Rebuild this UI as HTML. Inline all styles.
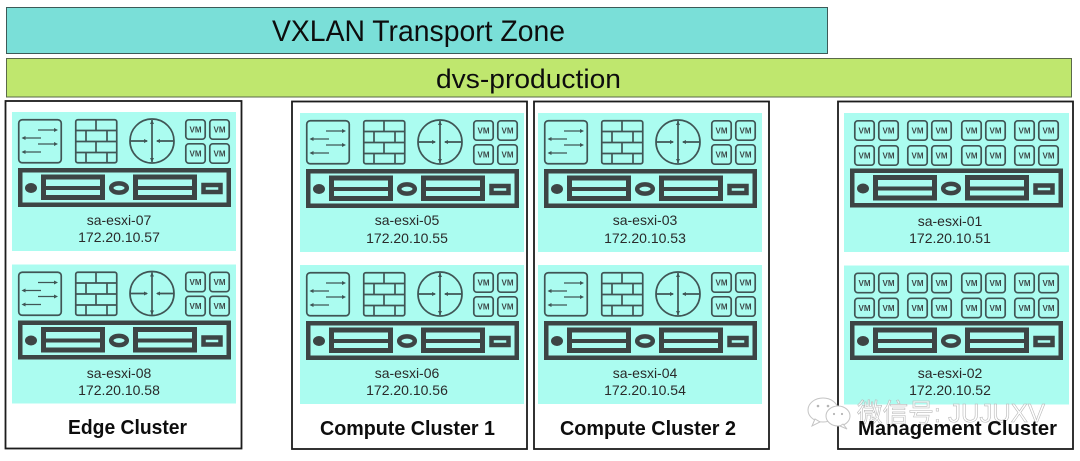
<!DOCTYPE html>
<html>
<head>
<meta charset="utf-8">
<style>
html,body{margin:0;padding:0;background:#fff;width:1080px;height:461px;overflow:hidden}
svg{display:block}
text{font-family:"Liberation Sans","Noto Sans CJK SC",sans-serif}
.h{font-size:14px;fill:#2a2a2a;text-anchor:middle}
.c{font-size:20px;font-weight:bold;fill:#111;text-anchor:middle}
.vm{font-size:8px;font-weight:bold;fill:#3e4a4a;text-anchor:middle}
</style>
</head>
<body>
<svg width="1080" height="461" viewBox="0 0 1080 461" xmlns="http://www.w3.org/2000/svg">
<defs>
<filter id="s" x="-2%" y="-2%" width="104%" height="104%"><feGaussianBlur stdDeviation="0.35"/></filter>
<g id="vm">
  <rect x="0.8" y="0.8" width="19.4" height="19.4" rx="3" fill="none" stroke="#3f5555" stroke-width="1.700"/>
  <text x="10.5" y="13.5" class="vm">VM</text>
</g>
<g id="server">
  <rect x="20.25" y="170.25" width="208.500" height="34.500" fill="none" stroke="#3d4444" stroke-width="4.500"/>
  <ellipse cx="31" cy="188" rx="6" ry="5" fill="#3d4444"/>
  <rect x="43.5" y="177" width="59" height="20.500" fill="none" stroke="#3d4444" stroke-width="5"/>
  <rect x="43" y="186" width="60" height="4" fill="#3d4444"/>
  <ellipse cx="119" cy="188" rx="7.800" ry="4.600" fill="none" stroke="#3d4444" stroke-width="4.500"/>
  <rect x="135.5" y="177" width="59" height="20.500" fill="none" stroke="#3d4444" stroke-width="5"/>
  <rect x="135" y="186" width="60" height="4" fill="#3d4444"/>
  <rect x="203.500" y="185" width="17" height="7" fill="none" stroke="#3d4444" stroke-width="4.500"/>
</g>
<g id="hostA">
  <rect x="12" y="112" width="224" height="139" fill="#abfcf0"/>
  <g fill="none" stroke="#3f5555" stroke-width="1.700">
    <rect x="18.75" y="119.75" width="42.5" height="43" rx="3.5"/>
    <rect x="75.75" y="119.75" width="41" height="43" rx="2"/>
    <path d="M76 130.5H117M76 141.5H117M76 152.5H117M96 120V130.5M86 130.5V141.5M107 130.5V141.5M96 141.5V152.5M86 152.5V163M107 152.5V163"/>
    <circle cx="152" cy="141" r="22"/>
    <path d="M130 141H147M157 141H174M152 120V162"/>
  </g>
  <g fill="none" stroke="#3f5555" stroke-width="1.300">
    <path d="M38 130H56M23 138H41M38 144H56M23 152H41"/>
  </g>
  <g fill="#3f5555">
    <path d="M58 130l-4-2v4zM21.500 138l4-2v4zM58 144l-4-2v4zM21.500 152l4-2v4z"/>
    <path d="M148 141l-4-2v4zM156 141l4-2v4zM152 120l-2 4h4zM152 162l-2-4h4z"/>
  </g>
  <use href="#vm" x="185" y="119"/>
  <use href="#vm" x="209" y="119"/>
  <use href="#vm" x="185" y="143"/>
  <use href="#vm" x="209" y="143"/>
  <use href="#server"/>
</g>
<g id="hostB">
  <rect x="844" y="113" width="225" height="139" fill="#abfcf0"/>
  <use href="#vm" x="854" y="120"/><use href="#vm" x="878" y="120"/>
  <use href="#vm" x="907" y="120"/><use href="#vm" x="931" y="120"/>
  <use href="#vm" x="961" y="120"/><use href="#vm" x="985" y="120"/>
  <use href="#vm" x="1014" y="120"/><use href="#vm" x="1038" y="120"/>
  <use href="#vm" x="854" y="145"/><use href="#vm" x="878" y="145"/>
  <use href="#vm" x="907" y="145"/><use href="#vm" x="931" y="145"/>
  <use href="#vm" x="961" y="145"/><use href="#vm" x="985" y="145"/>
  <use href="#vm" x="1014" y="145"/><use href="#vm" x="1038" y="145"/>
  <use href="#server" x="832" y="0.5"/>
</g>
</defs>

<g filter="url(#s)">
  <rect x="6.500" y="7.500" width="821" height="46" fill="#7adfd8" stroke="#3d5a58" stroke-width="1"/>
  <rect x="6.500" y="58.500" width="1065" height="38.500" fill="#bfe76e" stroke="#5a6a48" stroke-width="1"/>
  <text x="272" y="41" font-size="30" fill="#111" textLength="293" lengthAdjust="spacingAndGlyphs">VXLAN Transport Zone</text>
  <text x="436" y="88" font-size="27" fill="#111" textLength="185" lengthAdjust="spacingAndGlyphs">dvs-production</text>

  <g fill="#fff" stroke="#1a1a1a" stroke-width="1.800">
    <rect x="5.500" y="101" width="236" height="347.500"/>
    <rect x="292" y="101.500" width="235" height="347.500"/>
    <rect x="534" y="101.500" width="235" height="347.500"/>
    <rect x="838" y="101.500" width="235" height="347.500"/>
  </g>

  <use href="#hostA"/>
  <use href="#hostA" y="152.500"/>
  <use href="#hostA" x="288" y="1"/>
  <use href="#hostA" x="288" y="153"/>
  <use href="#hostA" x="526" y="1"/>
  <use href="#hostA" x="526" y="153"/>
  <use href="#hostB"/>
  <use href="#hostB" y="152.500"/>

  <text x="119" y="225" class="h">sa-esxi-07</text><text x="119" y="242" class="h">172.20.10.57</text>
  <text x="119" y="378" class="h">sa-esxi-08</text><text x="119" y="395" class="h">172.20.10.58</text>
  <text x="407" y="225" class="h">sa-esxi-05</text><text x="407" y="243" class="h">172.20.10.55</text>
  <text x="407" y="378" class="h">sa-esxi-06</text><text x="407" y="395" class="h">172.20.10.56</text>
  <text x="645" y="225" class="h">sa-esxi-03</text><text x="645" y="243" class="h">172.20.10.53</text>
  <text x="645" y="378" class="h">sa-esxi-04</text><text x="645" y="395" class="h">172.20.10.54</text>
  <text x="950" y="226" class="h">sa-esxi-01</text><text x="950" y="243" class="h">172.20.10.51</text>
  <text x="950" y="378" class="h">sa-esxi-02</text><text x="950" y="395" class="h">172.20.10.52</text>

  <g fill="#fff" stroke="#c4c4c4" stroke-width="1">
    <ellipse cx="823" cy="410" rx="15" ry="12"/>
    <path d="M815 419l-3 7 8-4z"/>
    <ellipse cx="838" cy="416" rx="12" ry="10"/>
    <path d="M843 424l4 5-7-3z"/>
  </g>
  <g fill="#b5b5b5">
    <circle cx="818" cy="406" r="1.300"/><circle cx="828" cy="406" r="1.300"/>
    <circle cx="834" cy="414" r="1.100"/><circle cx="842" cy="414" r="1.100"/>
  </g>
  <text x="857" y="422" font-size="26" fill="#fff" fill-opacity="0.7" stroke="#b8b8b8" stroke-width="0.600" textLength="188" lengthAdjust="spacingAndGlyphs">微信号: JUJUXV</text>

  <text x="127.500" y="434" class="c" textLength="119" lengthAdjust="spacingAndGlyphs">Edge Cluster</text>
  <text x="407.500" y="435" class="c" textLength="175" lengthAdjust="spacingAndGlyphs">Compute Cluster 1</text>
  <text x="648" y="435" class="c" textLength="176" lengthAdjust="spacingAndGlyphs">Compute Cluster 2</text>
  <text x="957.500" y="435" class="c" textLength="199" lengthAdjust="spacingAndGlyphs">Management Cluster</text>
</g>
</svg>
</body>
</html>
